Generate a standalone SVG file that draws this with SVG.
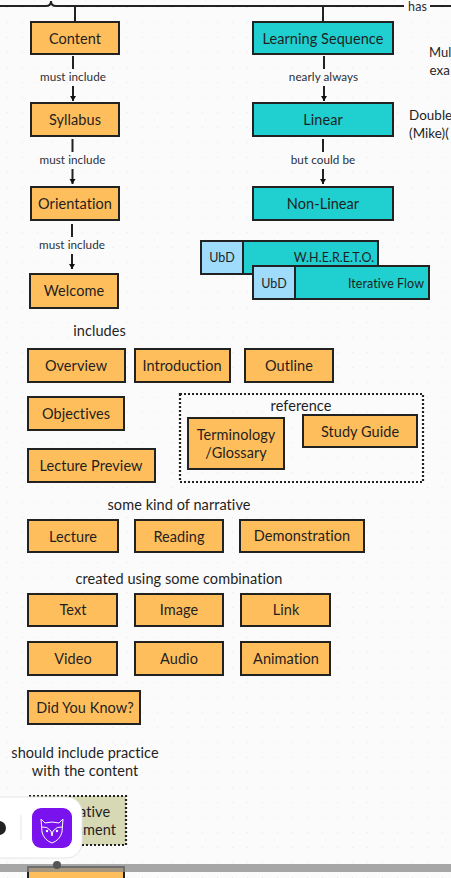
<svg xmlns="http://www.w3.org/2000/svg" width="451" height="878" viewBox="0 0 451 878">
<style>
text{font-family:"Lato","Liberation Sans",sans-serif;font-size:14.5px;fill:#1f1f1f;text-anchor:middle;font-variant-ligatures:none;letter-spacing:.06px}
.l{font-size:11.700px;fill:#2b2f38}
.s{font-size:12.500px}
.n{text-anchor:start;font-size:13.400px}
.o{fill:#ffbe5c;stroke:#222;stroke-width:2}
.t{fill:#20cfcf;stroke:#222;stroke-width:2}
.u{fill:#9fdcfb;stroke:#222;stroke-width:2}
.c{fill:none;stroke:#222;stroke-width:2}
.d{fill:none;stroke:#222;stroke-width:2.2;stroke-dasharray:2 2}
</style>
<defs>
<pattern id="g" width="15" height="15" patternUnits="userSpaceOnUse"><rect x="7" y="7" width="1" height="1" fill="#e9e9e9"/></pattern>
<marker id="a" markerUnits="userSpaceOnUse" markerWidth="7" markerHeight="8" refX="5" refY="3.500" orient="auto"><path d="M0 0.500L5 3.500L0 6.500Z" fill="#111"/></marker>
</defs>
<rect width="451" height="878" fill="#fbfbfb"/>
<rect width="451" height="878" fill="url(#g)"/>
<g id="connectors">
<path class="c" d="M0 6H46Q51 6 51 1Q51 6 56 6H404M430 6H451M75 6V21M323 6V21"/>
<path class="c" d="M73 56V69M73 86V101" marker-end="url(#a)"/>
<path class="c" d="M72.500 139V152M72.500 169V184" marker-end="url(#a)"/>
<path class="c" d="M72 224V237M72 254V269" marker-end="url(#a)"/>
<path class="c" d="M324 56V69M324 86V101" marker-end="url(#a)"/>
<path class="c" d="M323 139V152M323 169V184" marker-end="url(#a)"/>
<text class="l" x="73" y="81">must include</text>
<text class="l" x="72.500" y="164">must include</text>
<text class="l" x="72" y="249">must include</text>
<text class="l" x="323.500" y="81">nearly always</text>
<text class="l" x="323" y="164">but could be</text>
<text class="l" x="417.500" y="10.500" style="font-size:12.500px">has</text>
</g>
<g id="content"><rect class="o" x="31" y="22" width="88" height="32"/><text x="75" y="43.500">Content</text></g>
<g id="syllabus"><rect class="o" x="31" y="103" width="88" height="33"/><text x="75" y="124.500">Syllabus</text></g>
<g id="orientation"><rect class="o" x="31" y="187" width="88" height="33"/><text x="75" y="209">Orientation</text></g>
<g id="welcome"><rect class="o" x="30" y="274" width="88" height="34"/><text x="74" y="296">Welcome</text></g>
<g id="learning-sequence"><rect class="t" x="253" y="22" width="140" height="32"/><text x="323" y="43.500">Learning Sequence</text></g>
<g id="linear"><rect class="t" x="253" y="103" width="140" height="33"/><text x="323" y="124.500">Linear</text></g>
<g id="non-linear"><rect class="t" x="253" y="187" width="140" height="33"/><text x="323" y="209">Non-Linear</text></g>
<g id="whereto"><rect class="t" x="243" y="241" width="135" height="33"/><rect class="u" x="201" y="241" width="42" height="33"/><text class="s" x="222" y="262">UbD</text><text class="s" x="334" y="262">W.H.E.R.E.T.O.</text></g>
<g id="iterative-flow"><rect class="t" x="295" y="266" width="134" height="33"/><rect class="u" x="253" y="266" width="42" height="33"/><text class="s" x="274" y="288">UbD</text><text class="s" x="386" y="288">Iterative Flow</text></g>
<g id="note-1"><text class="n" x="429" y="57" style="font-size:13px">Mul</text><text class="n" x="429.500" y="75">exa</text></g>
<g id="note-2"><text class="n" x="409" y="120">Double</text><text class="n" x="409" y="138">(Mike)(</text></g>
<g id="includes"><text x="99.500" y="336">includes</text></g>
<g id="overview"><rect class="o" x="28" y="349" width="97" height="33"/><text x="76" y="371">Overview</text></g>
<g id="introduction"><rect class="o" x="135" y="349" width="95" height="33"/><text x="182" y="371">Introduction</text></g>
<g id="outline"><rect class="o" x="245" y="349" width="88" height="33"/><text x="289" y="371">Outline</text></g>
<g id="objectives"><rect class="o" x="28" y="397" width="96" height="33"/><text x="76" y="418.500">Objectives</text></g>
<g id="lecture-preview"><rect class="o" x="28" y="449" width="127" height="33"/><text x="91" y="471">Lecture Preview</text></g>
<g id="reference"><rect class="d" x="180" y="394" width="243" height="88"/><text x="301" y="411">reference</text></g>
<g id="terminology"><rect class="o" x="188" y="418" width="96" height="51"/><text x="236" y="439.500">Terminology</text><text x="236" y="457.500">/Glossary</text></g>
<g id="study-guide"><rect class="o" x="303" y="415" width="114" height="32"/><text x="360" y="436.500">Study Guide</text></g>
<g id="narrative"><text x="179" y="510">some kind of narrative</text></g>
<g id="lecture"><rect class="o" x="28" y="520" width="90" height="32"/><text x="73" y="541.500">Lecture</text></g>
<g id="reading"><rect class="o" x="135" y="520" width="88" height="32"/><text x="179" y="541.500">Reading</text></g>
<g id="demonstration"><rect class="o" x="240" y="520" width="124" height="32"/><text x="302" y="541">Demonstration</text></g>
<g id="combination"><text x="179" y="584">created using some combination</text></g>
<g id="text"><rect class="o" x="28" y="594" width="89" height="32"/><text x="73" y="614.500">Text</text></g>
<g id="image"><rect class="o" x="135" y="594" width="88" height="32"/><text x="179" y="614.500">Image</text></g>
<g id="link"><rect class="o" x="241" y="594" width="89" height="32"/><text x="286" y="614.500">Link</text></g>
<g id="video"><rect class="o" x="28" y="642" width="89" height="33"/><text x="73" y="664">Video</text></g>
<g id="audio"><rect class="o" x="135" y="642" width="88" height="33"/><text x="179" y="664">Audio</text></g>
<g id="animation"><rect class="o" x="241" y="642" width="89" height="33"/><text x="286" y="664">Animation</text></g>
<g id="did-you-know"><rect class="o" x="28" y="691" width="112" height="33"/><text x="85" y="713">Did You Know?</text></g>
<g id="practice"><text x="85" y="758">should include practice</text><text x="85" y="776">with the content</text></g>
<g id="assessment"><rect x="29" y="796" width="97" height="49" fill="#d7d8b4" stroke="#222" stroke-width="2.200" stroke-dasharray="2 2"/><text x="78" y="817">Formative</text><text x="78" y="835">Assessment</text></g>
<g id="next"><rect class="o" x="28" y="867" width="96" height="20"/></g>
<rect x="0" y="864" width="451" height="8" fill="#8a8a8a" fill-opacity=".75"/>
<g id="overlay">
<rect x="-20" y="797" width="102" height="61" rx="15" fill="#fff" stroke="#e6e6e6"/>
<circle cx="57" cy="865" r="4" fill="#555"/>
<circle cx="-1" cy="828" r="7" fill="#222"/>
<rect x="20.500" y="815" width="1" height="25" fill="#e5e5e5"/>
<rect x="32" y="808" width="40" height="40" rx="9" fill="#7a12ee"/>
<path d="M41 819L45 823Q52 821 59 823L63 819L62 832Q60 840 52 843Q44 840 42 832ZM42 827Q47 826 51 831L52 836L53 831Q57 826 62 827" fill="none" stroke="#fff" stroke-width="1"/>
<circle cx="47" cy="831" r="1.200" fill="#fff"/><circle cx="57" cy="831" r="1.200" fill="#fff"/>
</g>
</svg>
